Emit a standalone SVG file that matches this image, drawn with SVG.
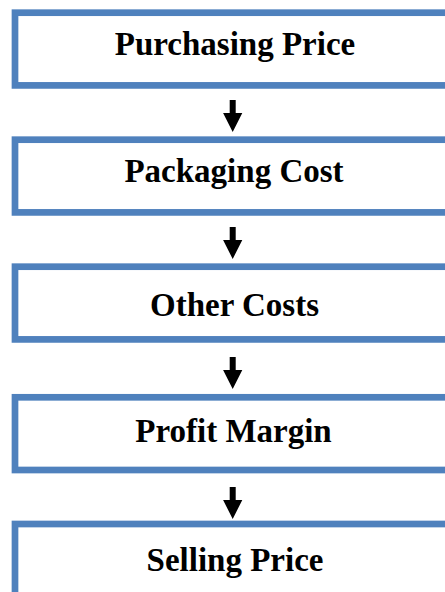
<svg xmlns="http://www.w3.org/2000/svg" width="445" height="592" viewBox="0 0 445 592">
<style>
.box{fill:#fff;stroke:#4F81BD;stroke-width:6.7}
.lbl{font-family:"Liberation Serif","Times New Roman",serif;font-weight:bold;font-size:33px;fill:#000;text-anchor:middle}
.arr{fill:#000}
</style>
<rect width="445" height="592" fill="#fff"/>
<g id="node1"><rect class="box" x="15" y="12.7" width="450" height="72.7"/><text class="lbl" x="235" y="55">Purchasing Price</text></g>
<g id="node2"><rect class="box" x="15" y="139.7" width="450" height="72.7"/><text class="lbl" x="234" y="182">Packaging Cost</text></g>
<g id="node3"><rect class="box" x="15" y="266.7" width="450" height="72.7"/><text class="lbl" x="234.5" y="316">Other Costs</text></g>
<g id="node4"><rect class="box" x="15" y="397.3" width="450" height="72.7"/><text class="lbl" x="233.5" y="442">Profit Margin</text></g>
<g id="node5"><rect class="box" x="15" y="524" width="450" height="120"/><text class="lbl" x="235" y="571">Selling Price</text></g>
<g id="connectors">
<path class="arr" d="M229.7,100 h6 v13 h6.6 l-9.6,19 l-9.6,-19 h6.6 z"/>
<path class="arr" d="M229.7,227 h6 v13 h6.6 l-9.6,19 l-9.6,-19 h6.6 z"/>
<path class="arr" d="M229.7,357 h6 v13 h6.6 l-9.6,19 l-9.6,-19 h6.6 z"/>
<path class="arr" d="M229.7,487 h6 v13 h6.6 l-9.6,19 l-9.6,-19 h6.6 z"/>
</g>
</svg>
